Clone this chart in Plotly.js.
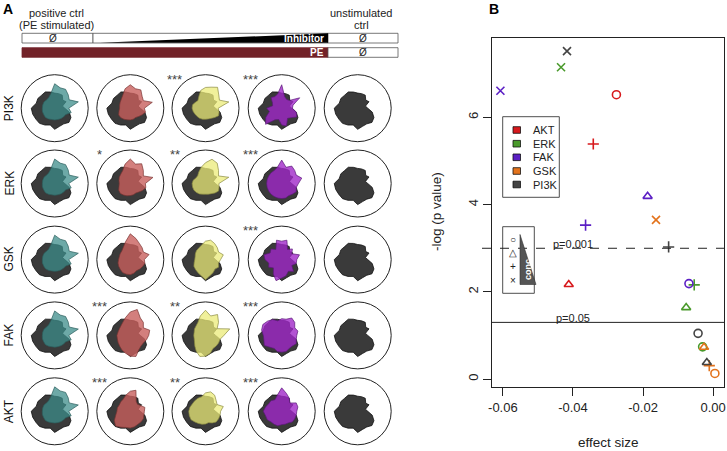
<!DOCTYPE html>
<html><head><meta charset="utf-8">
<script src="https://cdn.plot.ly/plotly-3.0.1.min.js"></script>
<style>html,body{margin:0;padding:0;background:#fff}#chart{width:727px;height:451px}</style>
</head><body><div id="chart"></div>
<script>
// ---------- Panel A data ----------
const rowKinases = ['PI3K','ERK','GSK','FAK','AKT'];
const spokeAngles = [0,15,30,45,60,75,90,105,120,135,150,165,180,195,210,225,240,255,270,285,300,315,330,345];
const unstimShape = [0.30,0.24,0.39,0.34,0.45,0.45,0.45,0.50,0.56,0.55,0.58,0.57,0.70,0.68,0.65,0.64,0.58,0.52,0.63,0.56,0.54,0.60,0.56,0.45];
const posCtrlShape = [0.42,0.73,0.50,0.57,0.65,0.63,0.73,0.45,0.36,0.35,0.37,0.37,0.37,0.38,0.38,0.39,0.37,0.35,0.35,0.35,0.36,0.37,0.38,0.51];
const lowConc_PI3K = [0.42,0.68,0.45,0.50,0.63,0.60,0.70,0.60,0.45,0.38,0.35,0.33,0.32,0.35,0.40,0.40,0.38,0.36,0.35,0.34,0.32,0.35,0.40,0.47];
const lowConc_ERK  = [0.45,0.70,0.45,0.55,0.68,0.60,0.73,0.60,0.45,0.40,0.38,0.35,0.33,0.35,0.40,0.42,0.40,0.38,0.36,0.35,0.33,0.36,0.42,0.48];
const lowConc_GSK  = [0.42,0.58,0.45,0.50,0.55,0.65,0.77,0.55,0.42,0.36,0.35,0.34,0.35,0.38,0.40,0.42,0.45,0.45,0.45,0.42,0.38,0.40,0.42,0.45];
const lowConc_FAK  = [0.55,0.60,0.45,0.55,0.60,0.80,0.70,0.55,0.45,0.40,0.38,0.38,0.40,0.40,0.42,0.45,0.50,0.55,0.62,0.65,0.50,0.45,0.45,0.50];
const lowConc_AKT  = [0.42,0.45,0.35,0.30,0.35,0.65,0.60,0.50,0.42,0.40,0.38,0.40,0.40,0.45,0.55,0.62,0.55,0.50,0.50,0.48,0.45,0.45,0.45,0.42];
const midConc_PI3K = [0.38,0.72,0.48,0.56,0.72,0.65,0.62,0.55,0.40,0.32,0.35,0.40,0.40,0.38,0.36,0.35,0.35,0.34,0.33,0.33,0.35,0.39,0.45,0.42];
const midConc_ERK  = [0.40,0.72,0.45,0.55,0.70,0.75,0.62,0.50,0.40,0.33,0.33,0.38,0.40,0.40,0.40,0.38,0.36,0.33,0.32,0.33,0.35,0.40,0.45,0.42];
const midConc_GSK  = [0.45,0.55,0.45,0.50,0.55,0.60,0.55,0.45,0.40,0.38,0.35,0.32,0.32,0.35,0.40,0.42,0.45,0.50,0.60,0.50,0.45,0.40,0.45,0.40];
const midConc_FAK  = [0.55,0.75,0.40,0.55,0.72,0.60,0.75,0.60,0.45,0.40,0.38,0.35,0.35,0.35,0.38,0.45,0.55,0.65,0.62,0.55,0.45,0.45,0.45,0.45];
const midConc_AKT  = [0.45,0.55,0.40,0.45,0.55,0.60,0.55,0.45,0.45,0.45,0.45,0.48,0.50,0.50,0.50,0.45,0.42,0.40,0.38,0.35,0.40,0.45,0.45,0.45];
const highConc_PI3K = [0.32,0.35,0.62,0.33,0.30,0.35,0.70,0.45,0.40,0.45,0.32,0.28,0.45,0.38,0.55,0.68,0.40,0.35,0.50,0.55,0.35,0.40,0.52,0.45];
const highConc_ERK  = [0.50,0.62,0.50,0.55,0.60,0.50,0.70,0.50,0.45,0.45,0.45,0.45,0.45,0.45,0.45,0.45,0.45,0.45,0.45,0.45,0.42,0.45,0.50,0.45];
const highConc_GSK  = [0.45,0.55,0.35,0.45,0.35,0.60,0.55,0.60,0.35,0.45,0.40,0.55,0.50,0.40,0.45,0.35,0.50,0.65,0.55,0.50,0.40,0.50,0.35,0.45];
const highConc_FAK  = [0.45,0.50,0.45,0.55,0.60,0.50,0.50,0.45,0.55,0.60,0.65,0.62,0.55,0.55,0.60,0.50,0.45,0.50,0.50,0.50,0.45,0.45,0.50,0.45];
const highConc_AKT  = [0.45,0.50,0.50,0.35,0.45,0.55,0.70,0.50,0.40,0.45,0.45,0.50,0.55,0.50,0.50,0.45,0.45,0.45,0.40,0.40,0.40,0.45,0.45,0.45];
const starsLow  = ['', '*', '', '***', '***'];
const starsMid  = ['***', '**', '', '**', '**'];
const starsHigh = ['***', '***', '***', '***', '***'];

// ---------- Panel B data ----------
const kinases = ['AKT','ERK','FAK','GSK','PI3K'];
const concSymbols = ['circle-open','triangle-up-open','cross-thin-open','x-thin-open'];
const effect_AKT  = [-0.0276, -0.0412, -0.0342, null];
const logp_AKT    = [6.52, 2.17, 5.39, null];
const effect_ERK  = [-0.0030, -0.0077, -0.0054, -0.0434];
const logp_ERK    = [0.74, 1.64, 2.16, 7.15];
const effect_FAK  = [-0.0069, -0.0187, -0.0364, -0.0607];
const logp_FAK    = [2.19, 4.19, 3.53, 6.61];
const effect_GSK  = [0.0005, -0.0026, -0.0011, -0.0163];
const logp_GSK    = [0.13, 0.73, 0.31, 3.65];
const effect_PI3K = [-0.0043, -0.0018, -0.0127, -0.0417];
const logp_PI3K   = [1.05, 0.38, 3.03, 7.52];
const xTicks = [-0.06, -0.04, -0.02, 0.00];
const xTickText = ['-0.06','-0.04','-0.02','0.00'];
const yTicks = [0, 2, 4, 6];

// ---------- helpers ----------
const W = 727, H = 451;
const px = x => x / W;
const py = y => 1 - y / H;
const FONT = 'Liberation Sans, Arial, sans-serif';
const close = a => a.concat([a[0]]);

const shapesA = {
  low:  {PI3K: lowConc_PI3K, ERK: lowConc_ERK, GSK: lowConc_GSK, FAK: lowConc_FAK, AKT: lowConc_AKT},
  mid:  {PI3K: midConc_PI3K, ERK: midConc_ERK, GSK: midConc_GSK, FAK: midConc_FAK, AKT: midConc_AKT},
  high: {PI3K: highConc_PI3K, ERK: highConc_ERK, GSK: highConc_GSK, FAK: highConc_FAK, AKT: highConc_AKT}
};
const colFill = ['rgba(60,140,138,0.75)','rgba(200,95,93,0.8)','rgba(235,235,120,0.75)','rgba(160,40,200,0.8)'];
const colLine = ['#2d5f5d','#7a3332','#8a8a40','#5a1a78'];
const colCenters = [54.7, 130.3, 205.5, 281.7, 357.7];
const rowCenters = [108.2, 183.5, 259.6, 335.4, 411.3];
const R = 33.5;

const traces = [];
const layout = {
  width: W, height: H, margin: {l:0, r:0, t:0, b:0},
  paper_bgcolor: 'white', plot_bgcolor: 'white', showlegend: false,
  font: {family: FONT, size: 12, color: '#111'},
  shapes: [], annotations: []
};

let idx = 0;
rowKinases.forEach((kin, ri) => {
  colCenters.forEach((cx, ci) => {
    idx++;
    const key = idx === 1 ? 'polar' : 'polar' + idx;
    const cy = rowCenters[ri];
    layout[key] = {
      domain: {x: [px(cx - R), px(cx + R)], y: [py(cy + R), py(cy - R)]},
      bgcolor: 'white',
      radialaxis: {visible: false, range: [0, 1]},
      angularaxis: {showline: true, linecolor: '#222', linewidth: 1, showgrid: false, ticks: '', showticklabels: false}
    };
    traces.push({type: 'scatterpolar', subplot: key, r: close(unstimShape), theta: close(spokeAngles),
      mode: 'lines', fill: 'toself', fillcolor: '#3a3a3a', line: {color: '#111', width: 0.8}, hoverinfo: 'skip'});
    let shp = null;
    if (ci === 0) shp = posCtrlShape;
    else if (ci === 1) shp = shapesA.low[kin];
    else if (ci === 2) shp = shapesA.mid[kin];
    else if (ci === 3) shp = shapesA.high[kin];
    if (shp) {
      traces.push({type: 'scatterpolar', subplot: key, r: close(shp), theta: close(spokeAngles),
        mode: 'lines', fill: 'toself', fillcolor: colFill[ci], line: {color: colLine[ci], width: 0.7}, hoverinfo: 'skip'});
    }
    const st = ci === 1 ? starsLow[ri] : ci === 2 ? starsMid[ri] : ci === 3 ? starsHigh[ri] : '';
    if (st) layout.annotations.push({xref:'paper', yref:'paper', x: px(cx - 31), y: py(cy - 29), text: st,
      showarrow: false, font: {size: 13, color: '#444'}, xanchor: 'center', yanchor: 'middle'});
  });
  layout.annotations.push({xref:'paper', yref:'paper', x: px(9), y: py(rowCenters[ri]), text: kin, textangle: -90,
    showarrow: false, font: {size: 12, color: '#111'}, xanchor: 'center', yanchor: 'middle'});
});

// header of panel A
function rectPx(x0, y0, x1, y1, fill, line) {
  layout.shapes.push({type: 'rect', xref: 'paper', yref: 'paper', x0: px(x0), x1: px(x1), y0: py(y1), y1: py(y0),
    fillcolor: fill, line: {color: line || '#555', width: line === null ? 0 : 0.8}, layer: 'above'});
}
rectPx(22, 33.3, 93, 43, 'white');
rectPx(93, 33.3, 328, 43, 'white');
rectPx(328, 33.3, 398, 43, 'white');
layout.shapes.push({type: 'path', xref: 'paper', yref: 'paper',
  path: `M ${px(100)} ${py(42.8)} L ${px(328)} ${py(33.3)} L ${px(328)} ${py(42.8)} Z`,
  fillcolor: 'black', line: {width: 0}, layer: 'above'});
rectPx(22, 47.7, 328, 57.3, '#722228', '#722228');
rectPx(328, 47.7, 398, 57.3, 'white');
const ann = (x, y, text, opts) => layout.annotations.push(Object.assign({xref:'paper', yref:'paper', x: px(x), y: py(y),
  text: text, showarrow: false, xanchor: 'center', yanchor: 'middle', font: {size: 11, color: '#222'}}, opts || {}));
ann(8, 9, '<b>A</b>', {font: {size: 14, color: '#000'}});
ann(494, 9, '<b>B</b>', {font: {size: 14, color: '#000'}});
ann(56.5, 12.7, 'positive ctrl');
ann(56.5, 25, '(PE stimulated)');
ann(361, 12.7, 'unstimulated');
ann(361, 25, 'ctrl');
ann(53, 38.3, 'Ø', {font: {size: 10, color: '#222'}});
ann(363, 38.3, 'Ø', {font: {size: 10, color: '#222'}});
ann(363, 52.5, 'Ø', {font: {size: 10, color: '#222'}});
ann(326, 38.5, '<b>Inhibitor</b>', {xanchor: 'right', font: {size: 10, color: 'white'}});
ann(326, 52.5, '<b>PE</b>', {xanchor: 'right', font: {size: 10, color: 'white'}});

// ---------- Panel B ----------
const kinColors = {AKT: '#d7191c', ERK: '#4a9a2c', FAK: '#5b1fc4', GSK: '#e3731c', PI3K: '#444444'};
const effects = {AKT: effect_AKT, ERK: effect_ERK, FAK: effect_FAK, GSK: effect_GSK, PI3K: effect_PI3K};
const logps = {AKT: logp_AKT, ERK: logp_ERK, FAK: logp_FAK, GSK: logp_GSK, PI3K: logp_PI3K};
kinases.forEach(k => {
  traces.push({type: 'scatter', mode: 'markers', xaxis: 'x', yaxis: 'y', x: effects[k], y: logps[k],
    marker: {symbol: concSymbols, size: 8, color: kinColors[k], line: {color: kinColors[k], width: 1.6}},
    hoverinfo: 'skip'});
});
layout.xaxis = {domain: [px(492), px(724)], range: [-0.0631, 0.0031], tickvals: xTicks, ticktext: xTickText,
  ticks: 'outside', ticklen: 8, tickcolor: '#222', showline: true, mirror: true, linecolor: '#222', linewidth: 1,
  showgrid: false, zeroline: false, automargin: false, tickfont: {size: 13, color: '#222'}, anchor: 'y'};
layout.yaxis = {domain: [py(387), py(38)], range: [-0.18, 7.82], tickvals: yTicks, tickangle: -90,
  ticks: 'outside', ticklen: 8, tickcolor: '#222', showline: true, mirror: true, linecolor: '#222', linewidth: 1,
  showgrid: false, zeroline: false, automargin: false, tickfont: {size: 13, color: '#222'}, anchor: 'x'};
ann(608, 442, 'effect size', {font: {size: 13.5, color: '#222'}});
ann(436, 212, '-log (p value)', {textangle: -90, font: {size: 13.5, color: '#222'}});

// threshold lines
layout.shapes.push({type: 'line', xref: 'paper', yref: 'y', x0: px(482), x1: px(727), y0: 3, y1: 3,
  line: {color: '#222', width: 1, dash: 'dash'}});
layout.shapes.push({type: 'line', xref: 'x domain', yref: 'y', x0: 0, x1: 1, y0: 1.30103, y1: 1.30103,
  line: {color: '#222', width: 1}});
layout.annotations.push({xref: 'x', yref: 'y', x: -0.040, y: 3, text: 'p=0.001', showarrow: false,
  yanchor: 'bottom', yshift: -4, font: {size: 11, color: '#222'}});
layout.annotations.push({xref: 'x', yref: 'y', x: -0.040, y: 1.30103, text: 'p=0.05', showarrow: false,
  yanchor: 'bottom', yshift: -4, font: {size: 11, color: '#222'}});

// kinase legend box
rectPx(502.7, 116.7, 559.3, 197.3, 'rgba(255,255,255,0)', '#222');
const legY = [130, 143.7, 157.3, 171, 184.5];
kinases.forEach((k, i) => {
  rectPx(513, legY[i] - 3.3, 520.5, legY[i] + 3.3, kinColors[k], '#111');
  ann(530.5, legY[i], k, {xanchor: 'left', font: {size: 11, color: '#222'}});
});
// concentration legend box
rectPx(502.7, 226.7, 534.3, 293.3, 'rgba(255,255,255,0)', '#222');
layout.shapes.push({type: 'path', xref: 'paper', yref: 'paper',
  path: `M ${px(520)} ${py(234.5)} L ${px(520)} ${py(284.5)} L ${px(536)} ${py(284.5)} Z`,
  fillcolor: '#555', line: {color: '#333', width: 0.6}, layer: 'above'});
ann(528, 270, '<b>conc</b>', {textangle: -90, font: {size: 9, color: 'white'}});
const concGlyphs = ['○', '△', '+', '×'];
const concY = [239.3, 252.3, 266.5, 280];
concGlyphs.forEach((g, i) => ann(512.7, concY[i], g, {borderpad: 0, font: {size: 10, color: '#222'}}));

Plotly.newPlot('chart', traces, layout, {staticPlot: true, displayModeBar: false});
</script>
</body></html>
